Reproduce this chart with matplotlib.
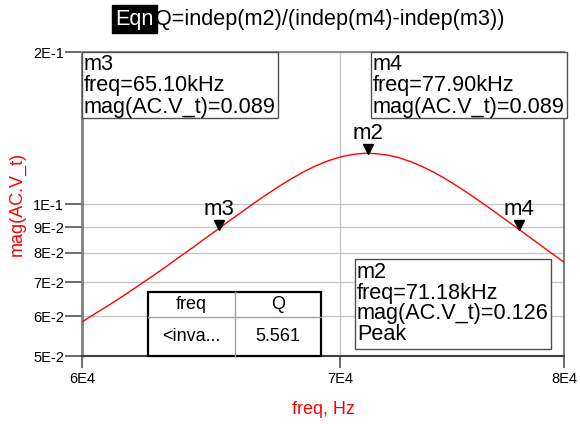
import matplotlib
matplotlib.use("Agg")
import matplotlib.pyplot as plt
from matplotlib.patches import Rectangle
from matplotlib.lines import Line2D
from matplotlib.transforms import ScaledTranslation

plt.rcParams['font.family'] = ['Liberation Sans', 'DejaVu Sans']

# ---- data ----
freq_hz = [60000, 60500, 61000, 61500, 62000, 62500, 63000, 63500, 64000, 64500,
           65000, 65500, 66000, 66500, 67000, 67500, 68000, 68500, 69000, 69500,
           70000, 70500, 71000, 71180, 71500, 72000, 72500, 73000, 73500, 74000,
           74500, 75000, 75500, 76000, 76500, 77000, 77500, 78000, 78500, 79000,
           79500, 80000]
mag_v = [0.0584, 0.0608, 0.0632, 0.0658, 0.0686, 0.0715, 0.0746, 0.0779, 0.0813, 0.0849,
         0.0886, 0.0925, 0.0964, 0.1005, 0.1045, 0.1085, 0.1123, 0.1159, 0.1191, 0.1218,
         0.1239, 0.1253, 0.1260, 0.1260, 0.1258, 0.1250, 0.1235, 0.1213, 0.1187, 0.1157,
         0.1124, 0.1089, 0.1054, 0.1018, 0.0983, 0.0948, 0.0915, 0.0883, 0.0852, 0.0822,
         0.0794, 0.0767]

marker_names = ['m3', 'm2', 'm4']
marker_freq = [65100, 71180, 77900]
marker_mag = [0.089, 0.126, 0.089]

y_ticks = [0.05, 0.06, 0.07, 0.08, 0.09, 0.1, 0.2]
y_ticklabels = ['5E-2', '6E-2', '7E-2', '8E-2', '9E-2', '1E-1', '2E-1']
x_ticks = [60000, 70000, 80000]
x_ticklabels = ['6E4', '7E4', '8E4']

title_tag = 'Eqn'
title_eqn = 'Q=indep(m2)/(indep(m4)-indep(m3))'
table_header = ['freq', 'Q']
table_freq_cell = '<inva...'

W, H = 580, 424
fig = plt.figure(figsize=(W / 100, H / 100), dpi=100)


def fx(x):
    return x / W


def fy(y):
    return 1 - y / H


AX_L, AX_R, AX_T, AX_B = 82, 564, 52, 356
ax = fig.add_axes([fx(AX_L), fy(AX_B), (AX_R - AX_L) / W, (AX_B - AX_T) / H])
ax.set_xscale('log')
ax.set_yscale('log')
ax.set_xlim(60000, 80000)
ax.set_ylim(0.05, 0.2)

ax.plot(freq_hz, mag_v, color='#ff0000', lw=1.0, zorder=3)

# ticks
ax.set_yticks(y_ticks)
ax.set_yticklabels(y_ticklabels)
ax.set_xticks(x_ticks)
ax.set_xticklabels(x_ticklabels)
ax.minorticks_off()
ax.tick_params(axis='y', length=12, width=1.3, color='#606060', pad=1, labelsize=10.5)
ax.tick_params(axis='x', length=8.6, width=1.3, color='#606060', pad=3.2, labelsize=10.5)

ax.grid(True, which='major', color='#c8c8c8', lw=1.0, zorder=0)
ax.set_axisbelow(True)

for side, col, lw in [('left', '#808080', 2.0), ('right', '#808080', 1.5),
                      ('top', '#909090', 1.5), ('bottom', '#404040', 1.5)]:
    ax.spines[side].set_color(col)
    ax.spines[side].set_linewidth(lw)

ax.set_ylabel('mag(AC.V_t)', color='#ff0000', fontsize=13)
ax.yaxis.set_label_coords((17 - AX_L) / (AX_R - AX_L), 0.5)
ax.yaxis.label.set_va('center')
ax.set_xlabel('freq, Hz', color='#ff0000', fontsize=13)
ax.xaxis.set_label_coords(0.5, (AX_B - 410) / (AX_B - AX_T))
ax.xaxis.label.set_va('center')

# markers (triangle tip on the curve)
tri_tr = ax.transData + ScaledTranslation(0, 4.5 / 100, fig.dpi_scale_trans)
ax.plot(marker_freq, marker_mag, 'v', color='black', ms=7.5, transform=tri_tr,
        zorder=5, clip_on=False)
for name, f, m in zip(marker_names, marker_freq, marker_mag):
    ax.annotate(name, (f, m), xytext=(0, 10.5), textcoords='offset points',
                ha='center', va='baseline', fontsize=16, zorder=6)

# title
fig.text(fx(154), fy(19), title_tag, ha='right', va='center', fontsize=15.6, color='white',
         bbox=dict(facecolor='black', edgecolor='black', pad=2.5))
fig.text(fx(155), fy(19), title_eqn, ha='left', va='center', fontsize=15.6, color='black')


def info_box(x0, y0, x1, y1, lines):
    fig.add_artist(Rectangle((fx(x0), fy(y1)), (x1 - x0) / W, (y1 - y0) / H,
                             transform=fig.transFigure, facecolor='white',
                             edgecolor='#505050', lw=1.0, zorder=10))
    for i, t in enumerate(lines):
        fig.text(fx(x0 + 2), fy(y0 + 13 + 21 * i), t, ha='left', va='center',
                 fontsize=15.6, zorder=11)


def lines_for(i, extra=None):
    out = [marker_names[i], f"freq={marker_freq[i] / 1000:.2f}kHz",
           f"mag(AC.V_t)={marker_mag[i]:.3f}"]
    if extra:
        out.append(extra)
    return out


info_box(82, 52, 278, 118, lines_for(0))
info_box(371, 52, 567, 118, lines_for(2))
info_box(355, 259, 551, 349, lines_for(1, 'Peak'))

# equation table
q_val = marker_freq[1] / (marker_freq[2] - marker_freq[0])
tx0, tx1, ty0, ty1 = 148, 321, 292, 356
tcol, trow = 235, 317
fig.add_artist(Rectangle((fx(tx0), fy(ty1)), (tx1 - tx0) / W, (ty1 - ty0) / H,
                         transform=fig.transFigure, facecolor='white',
                         edgecolor='black', lw=1.6, zorder=10))
fig.add_artist(Line2D([fx(tcol), fx(tcol)], [fy(ty0), fy(ty1)], transform=fig.transFigure,
                      color='#a0a0a0', lw=1.0, zorder=11))
fig.add_artist(Line2D([fx(tx0), fx(tx1)], [fy(trow), fy(trow)], transform=fig.transFigure,
                      color='#a0a0a0', lw=1.0, zorder=11))
fig.text(fx((tx0 + tcol) / 2), fy((ty0 + trow) / 2), table_header[0], ha='center',
         va='center', fontsize=13, zorder=12)
fig.text(fx((tcol + tx1) / 2), fy((ty0 + trow) / 2), table_header[1], ha='center',
         va='center', fontsize=13, zorder=12)
fig.text(fx((tx0 + tcol) / 2), fy((trow + ty1) / 2), table_freq_cell, ha='center',
         va='center', fontsize=13, zorder=12)
fig.text(fx((tcol + tx1) / 2), fy((trow + ty1) / 2), f"{q_val:.3f}", ha='center',
         va='center', fontsize=13, zorder=12)

fig.savefig('out.png', dpi=100)
